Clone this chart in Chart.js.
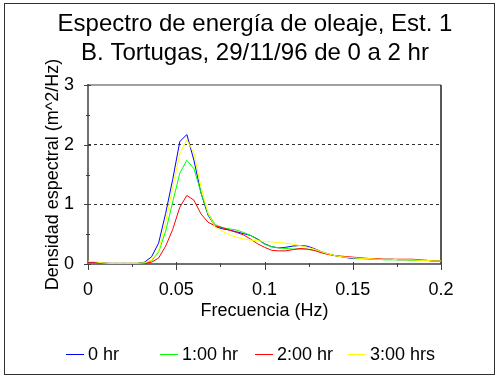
<!DOCTYPE html>
<html>
<head>
<meta charset="utf-8">
<script src="https://cdn.jsdelivr.net/npm/chart.js@4.4.1/dist/chart.umd.min.js"></script>
<style>
  html, body { margin: 0; padding: 0; background: #fff; }
  #wrap { width: 498px; height: 378px; }
</style>
</head>
<body>
<div id="wrap"><canvas id="chart" width="498" height="378"></canvas></div>
<script>
// ---- data ----
const titleLines = ['Espectro de energía de oleaje, Est. 1', 'B. Tortugas, 29/11/96 de 0 a 2 hr'];
const xTitle = 'Frecuencia (Hz)';
const yTitle = 'Densidad espectral (m^2/Hz)';

const freqs = [0, 0.004, 0.008, 0.012, 0.016, 0.02, 0.024, 0.028, 0.032, 0.036,
  0.04, 0.044, 0.048, 0.052, 0.056, 0.06, 0.064, 0.068, 0.072, 0.076,
  0.08, 0.084, 0.088, 0.092, 0.096, 0.1, 0.104, 0.108, 0.112, 0.116,
  0.12, 0.124, 0.128, 0.132, 0.136, 0.14, 0.144, 0.148, 0.152, 0.156,
  0.16, 0.164, 0.168, 0.172, 0.176, 0.18, 0.184, 0.188, 0.192, 0.196, 0.2];

const hr0 = [0.02, 0.02, 0.02, 0.01, 0.01, 0.01, 0.01, 0.01, 0.03, 0.12,
  0.35, 0.85, 1.42, 2.05, 2.17, 1.74, 1.19, 0.82, 0.63, 0.59,
  0.57, 0.54, 0.51, 0.48, 0.42, 0.34, 0.29, 0.27, 0.28, 0.30,
  0.31, 0.30, 0.26, 0.21, 0.17, 0.14, 0.12, 0.10, 0.09, 0.09,
  0.09, 0.08, 0.08, 0.08, 0.07, 0.07, 0.07, 0.06, 0.06, 0.05, 0.05];
const hr1 = [0.01, 0.01, 0.01, 0.01, 0.01, 0.01, 0.01, 0.01, 0.02, 0.05,
  0.20, 0.55, 1.04, 1.52, 1.74, 1.60, 1.20, 0.85, 0.66, 0.61,
  0.59, 0.57, 0.53, 0.48, 0.41, 0.33, 0.29, 0.27, 0.26, 0.25,
  0.25, 0.25, 0.23, 0.20, 0.17, 0.14, 0.12, 0.11, 0.10, 0.09,
  0.08, 0.08, 0.07, 0.07, 0.07, 0.07, 0.06, 0.06, 0.06, 0.05, 0.05];
const hr2 = [0.02, 0.02, 0.01, 0.01, 0.01, 0.01, 0.01, 0.01, 0.01, 0.03,
  0.10, 0.30, 0.58, 0.95, 1.15, 1.07, 0.84, 0.70, 0.64, 0.61,
  0.57, 0.53, 0.49, 0.42, 0.34, 0.28, 0.23, 0.22, 0.22, 0.24,
  0.26, 0.25, 0.23, 0.19, 0.16, 0.14, 0.13, 0.12, 0.11, 0.10,
  0.09, 0.09, 0.08, 0.08, 0.08, 0.08, 0.08, 0.07, 0.06, 0.05, 0.05];
const hr3 = [0.05, 0.04, 0.02, 0.01, 0.01, 0.01, 0.01, 0.01, 0.02, 0.07,
  0.22, 0.70, 1.28, 1.85, 2.08, 1.86, 1.30, 0.85, 0.62, 0.55,
  0.49, 0.45, 0.42, 0.40, 0.39, 0.38, 0.37, 0.36, 0.35, 0.33,
  0.31, 0.28, 0.25, 0.21, 0.17, 0.14, 0.12, 0.11, 0.10, 0.09,
  0.09, 0.08, 0.08, 0.08, 0.07, 0.07, 0.07, 0.06, 0.06, 0.05, 0.05];

const seriesNames = ['0 hr', '1:00 hr', '2:00 hr', '3:00 hrs'];
const seriesValues = [hr0, hr1, hr2, hr3];
const seriesColors = ['#0000ff', '#00ff00', '#ff0000', '#ffff00'];

const FONT = "'Liberation Sans', Arial, sans-serif";

function line(ctx, x1, y1, x2, y2) {
  ctx.beginPath();
  ctx.moveTo(x1, y1);
  ctx.lineTo(x2, y2);
  ctx.stroke();
}

// axes frame, crossing tick marks, title, legend, outer border
const framePlugin = {
  id: 'frame',
  beforeDatasetsDraw(chart) {
    const { ctx, chartArea: a, scales: { x, y } } = chart;
    ctx.save();
    ctx.strokeStyle = '#a0a0a0';
    ctx.lineWidth = 2;
    line(ctx, a.left, a.top, a.right, a.top);
    ctx.strokeStyle = '#202020';
    ctx.lineWidth = 1.5;
    line(ctx, a.right, a.top, a.right, a.bottom);
    ctx.strokeStyle = '#404040';
    line(ctx, a.left, a.top - 1, a.left, a.bottom);
    line(ctx, a.left, a.bottom, a.right, a.bottom);

    ctx.lineWidth = 1;
    x.ticks.forEach(t => {
      const px = Math.round(x.getPixelForValue(t.value)) + 0.5;
      const major = Math.round(t.value * 1000) % 50 === 0;
      line(ctx, px, a.bottom - (major ? 2 : 1), px, a.bottom + (major ? 6 : 3));
    });
    y.ticks.forEach(t => {
      const py = Math.round(y.getPixelForValue(t.value)) + 0.5;
      const major = Number.isInteger(t.value);
      line(ctx, a.left - (major ? 4 : 2), py, a.left + (major ? 3 : 2), py);
    });
    ctx.restore();
  },
  afterDraw(chart) {
    const { ctx } = chart;
    ctx.save();
    ctx.fillStyle = '#000';
    ctx.textAlign = 'center';
    ctx.textBaseline = 'alphabetic';
    ctx.font = '24px ' + FONT;
    ctx.fillText(titleLines[0], 255, 31);
    ctx.fillText(titleLines[1], 255, 60);

    // legend
    const legendX = [66, 160, 255, 348];
    ctx.font = '18px ' + FONT;
    ctx.textAlign = 'left';
    seriesNames.forEach((name, i) => {
      ctx.strokeStyle = seriesColors[i];
      ctx.lineWidth = 1;
      line(ctx, legendX[i], 354.5, legendX[i] + 18, 354.5);
      ctx.fillStyle = '#000';
      ctx.fillText(name, legendX[i] + 22, 360);
    });

    ctx.strokeStyle = '#303030';
    ctx.lineWidth = 1;
    ctx.strokeRect(4.5, 3.5, 490, 371);
    ctx.restore();
  }
};

new Chart(document.getElementById('chart'), {
  type: 'line',
  data: {
    datasets: seriesNames.map((name, i) => ({
      label: name,
      data: freqs.map((f, j) => ({ x: f, y: seriesValues[i][j] })),
      borderColor: seriesColors[i],
      backgroundColor: seriesColors[i],
      borderWidth: 1,
      pointRadius: 0,
      tension: 0,
      fill: false,
      order: 3 - i
    }))
  },
  options: {
    responsive: false,
    animation: false,
    devicePixelRatio: 1,
    layout: { padding: { left: 0, right: 57, top: 85, bottom: 56 } },
    plugins: {
      legend: { display: false },
      title: { display: false },
      tooltip: { enabled: false }
    },
    scales: {
      x: {
        type: 'linear',
        min: 0,
        max: 0.2,
        afterFit: s => { s.height = 58; },
        ticks: {
          stepSize: 0.025,
          padding: 15,
          autoSkip: false,
          maxRotation: 0,
          color: '#000',
          font: { family: FONT, size: 18 },
          callback: v => (Math.round(v * 1000) % 50 === 0 ? String(+v.toFixed(2)) : '')
        },
        grid: { display: false, drawTicks: false },
        border: { display: false },
        title: {
          display: true,
          text: xTitle,
          color: '#000',
          font: { family: FONT, size: 18 },
          padding: 0
        }
      },
      y: {
        min: 0,
        max: 3,
        afterFit: s => { s.width = 88; },
        ticks: {
          stepSize: 0.5,
          padding: 14,
          color: '#000',
          font: { family: FONT, size: 18 },
          callback: v => (Number.isInteger(v) ? String(v) : '')
        },
        grid: {
          drawTicks: false,
          lineWidth: 1,
          color: c => (c.tick && (c.tick.value === 1 || c.tick.value === 2) ? '#303030' : 'rgba(0,0,0,0)')
        },
        border: { display: false, dash: [3, 3] },
        title: {
          display: true,
          text: yTitle,
          color: '#000',
          font: { family: FONT, size: 18 },
          padding: { top: 42, bottom: 0 }
        }
      }
    }
  },
  plugins: [framePlugin]
});
</script>
</body>
</html>
